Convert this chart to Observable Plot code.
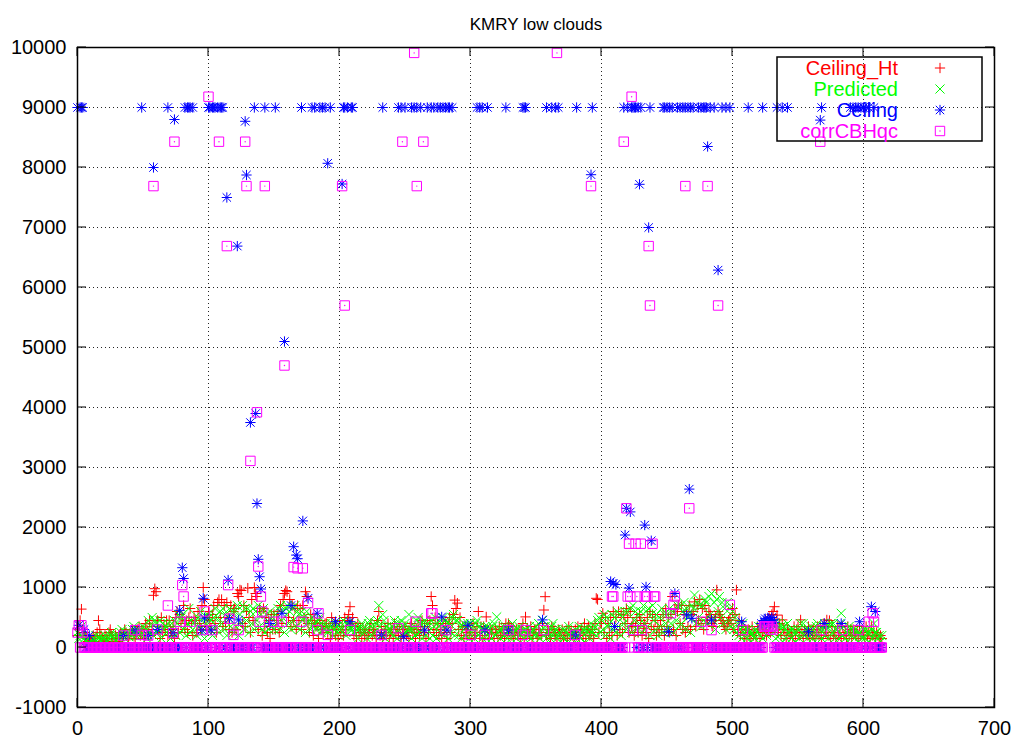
<!DOCTYPE html>
<html>
<head>
<meta charset="utf-8">
<script src="https://cdn.jsdelivr.net/npm/d3@7"></script>
<script src="https://cdn.jsdelivr.net/npm/@observablehq/plot@0.6"></script>
<style>
  html, body { margin: 0; padding: 0; background: #fff; }
  #chart svg { display: block; }
</style>
</head>
<body>
<div id="chart"></div>
<script>
const chartTitle = "KMRY low clouds";
const seriesNames = ["Ceiling_Ht", "Predicted", "Ceiling", "corrCBHqc"];
const seriesColors = ["#ff0000", "#00ff00", "#0000ff", "#ff00ff"];
const xTicks = [0, 100, 200, 300, 400, 500, 600, 700];
const yTicks = [-1000, 0, 1000, 2000, 3000, 4000, 5000, 6000, 7000, 8000, 9000, 10000];

// Ceiling_Ht (red +), one value per observation index 0..614
const ceilingHt = [
200,300,450,640,300,250,200,150,100,120, 100,150,200,100,180,250,450,300,200,150,
120,200,150,100,250,300,200,150,100,200, 150,100,200,250,150,200,300,250,200,150,
200,250,300,200,150,250,300,350,200,250, 300,150,400,300,250,450,200,350,870,980,
930,450,300,150,500,250,350,300,450,200, 450,300,250,350,150,500,600,250,550,400,
500,700,300,450,250,500,650,400,200,500, 450,250,600,400,300,700,1000,800,350,500,
600,450,300,550,700,400,250,750,800,500, 800,350,700,400,750,500,300,700,250,600,
650,300,900,850,960,950,400,700,350,600, 990,500,250,800,450,1000,900,850,300,650,
600,200,650,350,500,250,450,150,550,300, 550,300,450,600,250,700,400,800,900,950,
930,500,800,350,700,450,650,300,700,450, 650,300,700,500,930,850,400,250,550,450,
200,450,350,400,150,450,300,350,250,400, 400,250,350,150,500,300,400,200,300,150,
450,250,350,200,500,300,450,550,680,400, 500,200,350,150,400,250,300,150,300,200,
300,150,250,300,400,200,300,250,150,450, 600,200,350,150,250,300,200,400,150,250,
300,150,400,250,300,200,350,150,250,300, 350,200,250,150,350,400,250,300,150,300,
350,200,350,450,250,350,150,400,250,450, 850,700,300,500,250,400,200,300,150,400,
250,400,150,400,500,250,400,550,790,650, 740,300,500,200,350,150,350,250,300,200,
300,150,400,200,250,350,600,200,350,150, 350,200,510,300,150,300,250,300,150,300,
250,150,350,200,250,300,150,400,250,400, 350,200,300,150,250,300,200,300,150,300,
400,150,510,300,250,200,350,150,250,300, 300,150,300,250,200,400,625,847,200,300,
250,150,350,300,250,200,150,300,250,200, 300,150,200,250,150,350,200,250,200,150,
300,200,350,150,250,300,200,400,150,300, 350,200,250,300,150,400,820,800,250,400,
400,570,250,500,150,400,250,500,200,600, 350,500,200,600,300,550,250,540,400,650,
500,250,600,350,400,200,350,500,250,550, 450,200,320,400,250,500,150,600,350,550,
300,450,200,350,250,450,300,550,200,650, 350,500,250,550,850,300,650,200,600,710,
400,700,300,550,250,600,350,700,300,550, 600,760,350,700,450,800,400,650,300,700,
500,450,600,550,400,350,450,500,960,600, 550,500,450,400,350,300,400,450,500,400,
650,300,550,960,250,450,200,350,300,150, 300,150,300,250,150,350,200,250,150,350,
300,150,400,250,300,450,200,450,500,250, 550,600,680,400,540,250,400,200,460,300,
300,150,300,250,200,250,150,350,200,300, 350,200,460,250,150,300,250,200,350,150,
300,200,300,150,250,350,200,350,150,350, 400,250,460,200,450,150,350,200,250,150,
350,200,250,150,350,200,250,150,350,200, 300,150,300,250,200,250,150,350,200,250,
250,150,350,200,250,150,350,200,250,150, 250,200,150,200,150
];

// Predicted (green x)
const predicted = [
250,150,200,350,180,150,100,120,80,60, 100,80,150,120,200,100,150,180,120,100,
150,200,120,100,150,200,250,180,150,120, 200,150,180,250,300,200,150,250,200,180,
250,200,300,350,250,200,300,250,200,300, 350,200,300,150,450,250,350,500,200,450,
400,250,300,450,150,400,300,350,250,400, 300,150,400,250,450,200,400,550,250,500,
550,300,450,200,400,650,250,450,300,400, 450,200,500,350,600,250,500,150,400,550,
500,300,450,200,500,650,350,500,250,600, 400,650,300,550,200,500,650,350,600,250,
600,350,700,200,550,400,700,300,650,450, 650,250,600,400,650,300,600,450,700,350,
550,300,650,250,550,450,300,600,350,500, 300,550,400,650,300,700,450,600,250,650,
700,400,600,300,650,450,700,350,600,550, 300,600,450,500,250,600,400,450,300,500,
350,400,300,350,450,500,250,350,300,400, 350,250,300,350,400,200,300,400,350,250,
300,350,250,450,350,200,400,350,300,350, 300,250,350,300,150,300,350,400,300,250,
300,150,400,450,350,200,250,350,400,450, 700,350,200,550,450,150,350,300,250,300,
350,200,450,400,150,300,400,450,200,350, 400,250,300,550,300,150,300,350,200,450,
500,250,400,150,400,450,200,400,350,150, 450,200,350,500,150,400,350,250,400,500,
200,450,400,150,400,250,500,550,200,450, 450,200,350,150,350,400,200,350,400,150,
400,250,300,150,400,450,200,350,300,150, 300,350,150,350,300,250,150,350,400,200,
510,250,300,150,300,350,200,350,150,250, 300,150,400,250,300,150,300,350,200,250,
300,150,300,250,200,350,150,250,300,200, 350,200,400,150,300,450,200,350,150,250,
250,150,350,400,250,300,150,200,250,100, 300,150,300,250,100,350,200,250,150,250,
300,150,200,350,150,250,300,100,300,250, 300,150,400,250,300,350,200,450,500,250,
450,300,550,200,500,350,400,150,550,300, 500,250,600,350,550,200,500,400,600,300,
600,350,650,250,700,450,600,300,550,400, 600,250,700,400,600,350,650,200,550,700,
450,300,550,200,500,350,650,250,550,400, 550,300,650,400,600,250,600,450,700,350,
700,400,600,750,300,650,500,550,250,700, 650,875,400,750,500,700,350,700,450,800,
750,400,850,550,900,450,750,300,800,600, 850,500,750,400,650,300,750,450,650,350,
600,300,500,250,400,200,300,150,400,250, 300,150,300,250,100,250,200,150,300,250,
350,200,350,150,350,400,200,400,250,400, 400,250,400,150,400,350,200,350,100,350,
300,150,400,250,300,150,300,250,100,250, 300,150,400,250,400,200,300,150,300,250,
350,150,250,100,350,400,200,300,150,300, 350,200,350,150,350,400,250,400,150,300,
300,150,400,570,200,350,150,250,100,350, 300,200,300,150,300,250,100,250,200,150,
300,150,300,250,100,250,300,150,400,250, 250,150,200,100,200
];

// Ceiling (blue asterisk)
const ceiling = [
9000,370,9000,9000,9000,300,0,0,0,200, 0,0,0,0,0,0,0,0,0,0,
0,0,0,0,0,0,0,0,0,0, 0,0,0,0,0,200,0,0,0,0,
0,0,0,0,290,0,0,0,0,9000, 0,0,0,0,200,0,0,0,8000,0,
0,300,0,0,0,0,0,0,0,9000, 0,0,0,240,8800,0,0,0,620,0,
1330,1150,9000,0,9000,9000,9000,0,9000,0, 0,0,0,0,0,290,820,490,0,0,
9000,9000,290,9000,9000,9000,0,9000,0,9000, 9000,9000,0,0,7500,1125,480,0,0,0,
0,0,6690,460,0,0,0,0,8770,7875, 0,0,3750,0,0,9000,3900,2400,1470,1180,
975,0,0,9000,0,0,0,400,0,0, 0,9000,0,0,0,0,570,0,5100,0,
0,0,0,700,0,1680,0,1540,1480,0, 0,9000,2110,0,0,0,820,0,0,9000,
0,9000,0,570,0,9000,0,9000,0,9000, 0,8070,0,9000,0,0,0,430,0,0,
0,0,7725,9000,9000,0,9000,0,430,9000, 9000,0,0,0,0,0,0,0,0,0,
0,0,0,0,0,0,0,0,0,0, 0,0,210,9000,0,0,0,0,0,0,
0,0,0,0,0,9000,0,9000,0,180, 9000,0,0,0,0,9000,0,9000,0,9000,
0,0,9000,0,0,290,0,9000,0,0, 9000,0,9000,0,0,9000,0,9000,510,9000,
0,9000,290,9000,9000,0,9000,0,0,0, 0,0,0,0,0,0,0,0,370,0,
0,0,0,0,0,9000,0,9000,0,9000, 0,290,0,9000,0,0,0,0,0,0,
0,0,0,0,0,0,0,9000,0,290, 0,0,0,0,0,0,0,0,0,0,
9000,9000,9000,0,0,0,0,0,0,0, 0,0,0,0,0,460,0,0,9000,0,
0,0,9000,0,0,9000,0,9000,0,0, 0,0,0,0,0,0,0,0,0,0,
210,9000,0,0,0,0,0,0,0,0, 0,0,7880,9000,0,0,0,0,0,0,
0,0,0,0,0,0,0,1100,0,1070, 350,1050,0,0,0,0,0,9000,1875,2320,
9000,990,2260,9000,9000,9000,9000,0,9000,7720, 9000,0,0,2040,1010,0,7000,9000,1780,0,
0,0,0,0,0,0,0,9000,9000,0, 9000,263,9000,0,9000,0,900,0,9000,0,
9000,0,9000,0,9000,542,9000,2640,9000,486, 9000,0,0,0,9000,0,9000,0,9000,9000,
9000,8350,0,9000,460,0,9000,0,0,6290, 0,0,9000,0,0,9000,0,0,9000,0,
0,0,0,0,0,0,0,430,0,0, 0,0,9000,0,0,0,0,0,0,0,
0,0,400,9000,450,480,400,490,380,450, 500,460,420,0,9000,0,0,0,9000,0,
0,0,9000,0,0,0,0,0,0,0, 0,0,0,0,0,0,0,0,263,0,
0,0,0,0,0,0,0,8790,9000,0, 400,0,0,0,0,0,0,0,0,0,
0,0,0,400,0,0,0,0,0,0, 9000,0,9000,0,9000,0,9000,430,9000,0,
9000,0,9000,0,9000,0,680,0,9000,600, 0,0,0,0,0
];

// corrCBHqc (magenta square)
const corrCBHqc = [
250,370,0,370,250,0,0,0,0,0, 0,0,0,0,0,0,0,0,0,0,
0,0,0,0,0,0,0,0,0,0, 0,0,0,0,0,200,0,0,0,0,
0,0,0,0,290,0,0,0,0,210, 0,0,0,0,200,0,0,0,7690,0,
0,300,0,0,0,0,0,0,0,700, 0,0,0,240,8430,0,0,0,430,0,
1040,850,0,0,0,0,430,0,0,0, 0,0,0,0,0,290,0,600,0,0,
9180,0,0,290,0,0,0,0,8430,0, 0,0,0,0,6690,1040,480,0,0,210,
0,0,0,290,0,0,0,0,8430,7690, 0,0,3110,0,0,0,0,3920,1350,430,
850,600,0,7690,0,0,0,0,0,0, 430,0,0,0,0,0,430,0,4700,0,
0,0,0,0,0,1340,0,0,1320,0, 0,430,1320,0,0,0,740,0,0,0,
0,0,0,290,570,0,0,0,0,0, 0,210,0,0,0,0,0,0,0,0,
0,0,7690,0,5700,0,0,0,290,0, 0,0,0,0,0,0,0,0,0,0,
0,0,0,0,0,0,0,0,0,0, 0,0,210,0,0,0,0,0,0,0,
0,0,0,0,0,320,0,0,8430,0, 0,0,0,0,0,0,0,9910,430,7690,
0,0,0,0,8430,0,0,0,0,0, 570,570,0,0,0,0,0,0,0,0,
0,290,0,0,0,0,0,0,0,0, 0,0,0,0,0,0,0,0,0,0,
210,0,0,0,0,0,0,0,0,0, 0,210,0,0,0,0,0,0,0,0,
0,0,0,0,0,0,0,0,0,290, 0,0,0,0,0,0,0,0,0,0,
210,0,290,0,0,0,0,0,0,0, 0,0,0,0,0,0,290,0,0,0,
0,0,0,0,0,0,9910,0,0,0, 0,0,0,0,0,0,0,0,0,0,
210,0,0,0,0,0,0,0,0,0, 0,0,7690,0,0,0,0,0,0,0,
0,0,0,0,0,0,0,0,850,850, 0,0,0,0,0,0,0,8430,0,2320,
850,1730,850,9180,290,0,1730,850,0,0, 1730,290,0,850,0,850,6690,5700,0,1730,
850,850,0,0,0,0,0,0,0,0, 0,0,0,570,0,710,850,0,0,0,
0,0,0,0,7690,0,0,2320,0,0, 0,0,0,0,0,0,430,0,0,0,
0,7690,0,0,290,0,0,0,0,5700, 0,0,0,0,0,0,0,0,710,0,
0,0,0,0,0,0,0,0,290,0, 0,0,0,0,0,0,0,0,0,0,
0,0,0,0,350,350,350,350,350,300, 350,300,0,0,0,0,0,0,0,0,
0,0,0,0,0,0,0,0,0,0, 0,0,0,0,0,0,0,0,0,0,
0,0,0,0,0,0,0,8430,290,0, 0,0,0,0,0,0,0,0,0,0,
0,0,0,0,290,0,0,0,0,0, 0,0,0,0,0,0,290,0,0,0,
0,0,0,0,430,0,0,570,430,0, 0,0,0,0,0
];

const toPoints = arr => arr.map((v, i) => ({x: i, y: v}));
const dRed = toPoints(ceilingHt);
const dGreen = toPoints(predicted);
const dBlue = toPoints(ceiling);
const dMag = toPoints(corrCBHqc);

const FONT = '"Liberation Sans", Arial, Helvetica, sans-serif';
const gridStyle = {stroke: "#000", strokeOpacity: 0.85, strokeWidth: 1, strokeDasharray: "1,3"};

const chart = Plot.plot({
  width: 1017,
  height: 742,
  marginLeft: 77,
  marginRight: 23,
  marginTop: 47,
  marginBottom: 35,
  x: {domain: [0, 700]},
  y: {domain: [-1000, 10000]},
  style: {fontFamily: FONT, fontSize: "20px", background: "#fff", color: "#000"},
  marks: [
    Plot.gridX(xTicks, {...gridStyle, ariaLabel: "xgrid"}),
    Plot.gridY(yTicks, {...gridStyle, ariaLabel: "ygrid"}),
    Plot.axisX(xTicks, {tickSize: 0, tickPadding: 13, fontSize: 20, tickFormat: d => String(d), label: null}),
    Plot.axisY(yTicks, {tickSize: 0, tickPadding: 11, fontSize: 20, tickFormat: d => String(d), label: null}),
    Plot.dot(dRed, {x: "x", y: "y", symbol: "plus", r: 3.4, fill: "none", stroke: seriesColors[0], strokeWidth: 1, ariaLabel: "s-red"}),
    Plot.dot(dGreen, {x: "x", y: "y", symbol: "times", r: 4.2, fill: "none", stroke: seriesColors[1], strokeWidth: 1}),
    Plot.dot(dBlue, {x: "x", y: "y", symbol: "plus", r: 3.4, fill: "none", stroke: seriesColors[2], strokeWidth: 1}),
    Plot.dot(dBlue, {x: "x", y: "y", symbol: "times", r: 3.9, fill: "none", stroke: seriesColors[2], strokeWidth: 1}),
    Plot.dot(dMag, {x: "x", y: "y", symbol: "square", r: 5.3, fill: "none", stroke: seriesColors[3], strokeWidth: 1}),
    Plot.dot(dMag, {x: "x", y: "y", r: 0.7, fill: seriesColors[3], stroke: "none"}),
    Plot.frame({stroke: "#000", strokeWidth: 1.5}),
    Plot.text([chartTitle], {text: d => d, frameAnchor: "top", dy: -30, fontSize: 17, fill: "#000"})
  ]
});

document.getElementById("chart").appendChild(chart);

// inward mirrored tick marks on all four sides, placed with the chart's scales
const xs = chart.scale("x"), ys = chart.scale("y");
const svg = d3.select(chart);
const yBot = ys.apply(-1000), yTop = ys.apply(10000);
const xL = xs.apply(0), xR = xs.apply(700);
const tg = svg.append("g").attr("stroke", "#000").attr("stroke-width", 1);
const TL = 9;
for (const t of xTicks) {
  const px = xs.apply(t);
  tg.append("line").attr("x1", px).attr("x2", px).attr("y1", yBot).attr("y2", yBot - TL);
  tg.append("line").attr("x1", px).attr("x2", px).attr("y1", yTop).attr("y2", yTop + TL);
}
for (const t of yTicks) {
  const py = ys.apply(t);
  tg.append("line").attr("y1", py).attr("y2", py).attr("x1", xL).attr("x2", xL + TL);
  tg.append("line").attr("y1", py).attr("y2", py).attr("x1", xR).attr("x2", xR - TL);
}

// key box (gnuplot style, top right inside the frame)
const key = {x: 777, y: 57, w: 205, h: 84, textX: 898, symX: 940, rows: [68, 89, 110, 131]};
const firstDots = svg.select('[aria-label="s-red"]').node();
const bg = document.createElementNS("http://www.w3.org/2000/svg", "rect");
bg.setAttribute("x", key.x); bg.setAttribute("y", key.y);
bg.setAttribute("width", key.w); bg.setAttribute("height", key.h);
bg.setAttribute("fill", "#fff");
if (firstDots) firstDots.parentNode.insertBefore(bg, firstDots);
const kg = svg.append("g");
kg.append("rect").attr("x", key.x).attr("y", key.y).attr("width", key.w).attr("height", key.h)
  .attr("fill", "none").attr("stroke", "#000").attr("stroke-width", 1.5);
const sym = (type, r) => d3.symbol(type, r * r * Math.PI)();
seriesNames.forEach((name, i) => {
  const cy = key.rows[i];
  kg.append("text").attr("x", key.textX).attr("y", cy).attr("dy", "0.35em")
    .attr("text-anchor", "end").attr("font-family", FONT).attr("font-size", 20)
    .attr("fill", seriesColors[i]).text(name);
  const g = kg.append("g").attr("transform", `translate(${key.symX},${cy})`)
    .attr("fill", "none").attr("stroke", seriesColors[i]).attr("stroke-width", 1);
  if (i === 0) g.append("path").attr("d", sym(d3.symbolPlus, 3.4));
  if (i === 1) g.append("path").attr("d", sym(d3.symbolTimes, 4.2));
  if (i === 2) { g.append("path").attr("d", sym(d3.symbolPlus, 3.4)); g.append("path").attr("d", sym(d3.symbolTimes, 3.9)); }
  if (i === 3) { g.append("path").attr("d", sym(d3.symbolSquare, 5.3)); g.append("circle").attr("r", 0.7).attr("fill", seriesColors[i]).attr("stroke", "none"); }
});
</script>
</body>
</html>
